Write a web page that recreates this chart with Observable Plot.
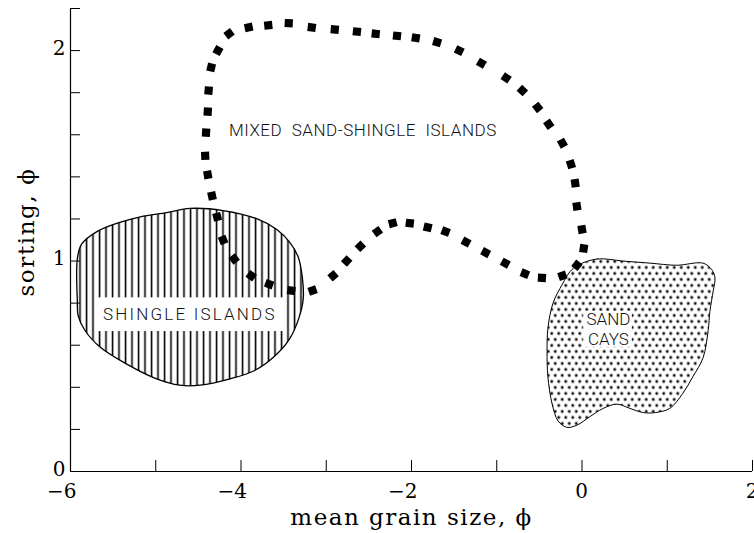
<!DOCTYPE html>
<html><head><meta charset="utf-8">
<script src="https://cdn.jsdelivr.net/npm/d3@7"></script>
<script src="https://cdn.jsdelivr.net/npm/@observablehq/plot@0.6"></script>
<style>body{margin:0;background:#fff}</style>
</head><body><div id="chart"></div>
<script>
// ---- axis ticks ----
const xTicks = [-6, -5, -4, -3, -2, -1, 0, 1, 2];
const xTickLabels = [-6, -4, -2, 0, 2];
const yTicks = [0, 0.2, 0.4, 0.6, 0.8, 1, 1.2, 1.4, 1.6, 1.8, 2, 2.2];
const yTickLabels = [0, 1, 2];
const xTitle = "mean grain size, ϕ";
const yTitle = "sorting, ϕ";

// ---- shingle islands field (outline) ----
const shingleX = [-5.92,-5.87,-5.69,-5.45,-5.18,-4.87,-4.60,-4.21,-3.81,-3.58,-3.43,-3.33,-3.28,-3.27,-3.32,-3.43,-3.60,-3.84,-4.13,-4.48,-4.72,-4.99,-5.34,-5.65,-5.83,-5.91,-5.92];
const shingleY = [1.01,1.08,1.14,1.18,1.21,1.23,1.25,1.24,1.20,1.15,1.09,1.02,0.92,0.82,0.73,0.63,0.55,0.48,0.44,0.41,0.41,0.44,0.51,0.59,0.67,0.74,0.81];

// ---- sand cays field (outline) ----
const sandX = [-0.05,0.18,0.48,0.80,1.11,1.42,1.52,1.56,1.54,1.50,1.48,1.42,1.30,1.18,1.03,0.86,0.72,0.56,0.41,0.25,0.09,-0.06,-0.18,-0.28,-0.35,-0.40,-0.41,-0.40,-0.34,-0.23,-0.14];
const sandY = [0.98,1.01,1.00,0.99,0.98,0.99,0.96,0.92,0.86,0.76,0.67,0.54,0.45,0.37,0.30,0.28,0.28,0.30,0.32,0.30,0.26,0.22,0.21,0.24,0.32,0.45,0.57,0.68,0.80,0.89,0.95];

// ---- mixed sand-shingle islands field (dotted boundary) ----
const mixedX = [-3.41,-3.67,-3.88,-4.08,-4.21,-4.28,-4.34,-4.39,-4.42,-4.41,-4.39,-4.38,-4.35,-4.27,-4.14,-3.91,-3.68,-3.44,-3.17,-2.90,-2.64,-2.42,-2.17,-1.95,-1.70,-1.44,-1.18,-0.89,-0.70,-0.52,-0.39,-0.23,-0.13,-0.08,-0.06,0.00,0.02,-0.06,-0.23,-0.47,-0.67,-0.90,-1.13,-1.36,-1.60,-1.81,-2.02,-2.22,-2.40,-2.60,-2.76,-2.92,-3.16];
const mixedY = [0.86,0.89,0.93,1.01,1.10,1.21,1.31,1.41,1.50,1.61,1.71,1.81,1.92,2.00,2.08,2.11,2.12,2.13,2.11,2.10,2.09,2.08,2.07,2.06,2.04,2.00,1.94,1.87,1.81,1.73,1.65,1.56,1.46,1.37,1.26,1.15,1.06,0.98,0.93,0.92,0.94,0.99,1.04,1.09,1.14,1.16,1.18,1.18,1.14,1.07,1.00,0.93,0.86];

// ---- labels ----
const labelText = ["SHINGLE ISLANDS", "MIXED  SAND-SHINGLE  ISLANDS", "SAND", "CAYS"];
const labelX = [-4.60, -2.57, 0.31, 0.31];
const labelY = [0.745, 1.62, 0.72, 0.625];
// white boxes behind labels (x1, x2, y1, y2)
const boxX1 = [-5.69, 0.02];
const boxX2 = [-3.50, 0.59];
const boxY1 = [0.665, 0.59];
const boxY2 = [0.825, 0.76];

// ---- build ----
const W = 754, H = 533, mL = 70, mR = 2, mT = 8, mB = 62;
const kx = (W - mL - mR) / 8, ky = (H - mT - mB) / 2.2;
const shingle = shingleX.map((x, i) => ({x, y: shingleY[i]}));
const sand = sandX.map((x, i) => ({x, y: sandY[i]}));
const mixed = mixedX.map((x, i) => ({x, y: mixedY[i]}));
const n = mixed.length;
mixed.forEach((d, i) => {
  const a = mixed[(i - 1 + n) % n], b = mixed[(i + 1) % n];
  d.angle = Math.atan2(-(b.y - a.y) * ky, (b.x - a.x) * kx) * 180 / Math.PI;
});
const labels = labelText.map((t, i) => ({t, x: labelX[i], y: labelY[i]}));
const boxes = boxX1.map((x1, i) => ({x1, x2: boxX2[i], y1: boxY1[i], y2: boxY2[i]}));
const fmt = d => d < 0 ? "\u2212" + Math.abs(d) : String(d);
const serif = "DejaVu Serif";
const sans = "Roboto";

const chart = Plot.plot({
  width: W, height: H,
  marginLeft: mL, marginRight: mR, marginTop: mT, marginBottom: mB,
  x: {domain: [-6, 2], axis: null},
  y: {domain: [0, 2.2], axis: null},
  style: {background: "white", color: "black"},
  marks: [
    Plot.line(shingle, {x: "x", y: "y", curve: "catmull-rom-closed", fill: "url(#hatch)", stroke: "black", strokeWidth: 1.3}),
    Plot.line(sand, {x: "x", y: "y", curve: "catmull-rom-closed", fill: "url(#stipple)", stroke: "black", strokeWidth: 1}),
    Plot.rect(boxes, {x1: "x1", x2: "x2", y1: "y1", y2: "y2", fill: "white"}),
    Plot.dot(mixed, {x: "x", y: "y", symbol: "square", r: 4.6, fill: "black", stroke: null, rotate: "angle"}),
    Plot.text(labels, {x: "x", y: "y", text: "t", fontSize: 17, fontFamily: sans, fontWeight: 300, fill: "#111"}),
    // axes
    Plot.ruleX([-6], {y1: 0, y2: 2.2, strokeWidth: 1.2}),
    Plot.ruleY([0], {x1: -6, x2: 2, strokeWidth: 1.2}),
    Plot.ruleY(yTicks, {y: d => d, x1: -6, x2: -6 + 10 / kx, strokeWidth: 1}),
    Plot.ruleX(xTicks, {x: d => d, y1: 0, y2: 11 / ky, strokeWidth: 1}),
    Plot.text(xTickLabels, {x: d => d, y: 0, text: fmt, textAnchor: "end", dx: 6, dy: 20, fontSize: 20, fontFamily: serif}),
    Plot.text(yTickLabels, {x: -6, y: d => d, text: fmt, textAnchor: "end", dx: -5, dy: -2, fontSize: 20, fontFamily: serif}),
    Plot.text([xTitle], {frameAnchor: "bottom", lineAnchor: "middle", textAnchor: "middle", dy: 46, fontSize: 23, fontFamily: serif}),
    Plot.text([yTitle], {frameAnchor: "left", lineAnchor: "middle", textAnchor: "middle", dx: -44, dy: -8, rotate: -90, fontSize: 23, fontFamily: serif})
  ]
});

const svg = d3.select(chart);
const defs = svg.insert("defs", ":first-child");
const hatch = defs.append("pattern").attr("id", "hatch").attr("patternUnits", "userSpaceOnUse")
  .attr("width", 6.5).attr("height", 10);
hatch.append("rect").attr("width", 6.5).attr("height", 10).attr("fill", "white");
hatch.append("line").attr("x1", 1.5).attr("x2", 1.5).attr("y1", 0).attr("y2", 10)
  .attr("stroke", "black").attr("stroke-width", 1.6);
const stip = defs.append("pattern").attr("id", "stipple").attr("patternUnits", "userSpaceOnUse")
  .attr("width", 7).attr("height", 12);
stip.append("rect").attr("width", 7).attr("height", 12).attr("fill", "white");
stip.append("circle").attr("cx", 1.75).attr("cy", 3).attr("r", 1.4).attr("fill", "black");
stip.append("circle").attr("cx", 5.25).attr("cy", 9).attr("r", 1.4).attr("fill", "black");

// letter spacing per text
const spacing = {"SHINGLE ISLANDS": 2.2, "MIXED  SAND-SHINGLE  ISLANDS": 0.55, [xTitle]: 1.5, [yTitle]: 1.6};
svg.selectAll("text").style("white-space", "pre").each(function() {
  const s = spacing[this.textContent];
  if (s != null) this.setAttribute("letter-spacing", s);
});

document.getElementById("chart").append(chart);
</script>
</body></html>
